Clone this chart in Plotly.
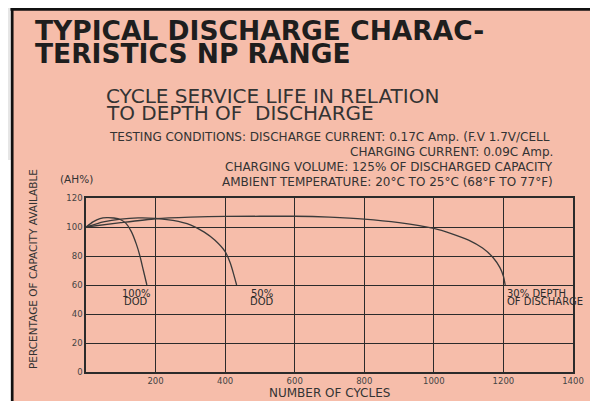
import plotly.graph_objects as go

# ---------------- data ----------------
dod100_cycles = [0, 20, 40, 60, 80, 100, 115, 130, 145, 155, 165, 175]
dod100_capacity = [100, 103.5, 105.8, 106.5, 106.2, 105, 102.5, 97, 88, 80, 70, 60]

dod50_cycles = [0, 50, 100, 150, 200, 250, 300, 340, 370, 400, 415, 425, 433]
dod50_capacity = [100, 103.5, 105.5, 106.3, 106, 104.5, 101.5, 96.5, 91, 83, 75, 67, 60]

dod30_cycles = [0, 100, 200, 300, 400, 600, 700, 800, 900, 1000, 1050, 1100, 1140, 1170, 1190, 1200, 1205]
dod30_capacity = [100, 103, 105.7, 106.8, 107.3, 107.4, 106.8, 105.5, 103, 99, 95.5, 91, 85.5, 79, 72, 66, 60]

x_ticks = [200, 400, 600, 800, 1000, 1200, 1400]
y_ticks = [0, 20, 40, 60, 80, 100, 120]

title_lines = ["TYPICAL DISCHARGE CHARAC-", "TERISTICS NP RANGE"]
subtitle_lines = ["CYCLE SERVICE LIFE IN RELATION", "TO DEPTH OF  DISCHARGE"]
cond_line1 = "TESTING CONDITIONS: DISCHARGE CURRENT: 0.17C Amp. (F.V 1.7V/CELL"
cond_lines_right = ["CHARGING CURRENT: 0.09C Amp.",
                    "CHARGING VOLUME: 125% OF DISCHARGED CAPACITY",
                    "AMBIENT TEMPERATURE: 20°C TO 25°C (68°F TO 77°F)"]

# ---------------- layout helpers ----------------
# page coordinates (the page body has an 8px margin, the figure sits at (8, 8))
OFF = 8
PW, PH = 598, 401
W, H = PW - OFF, PH - OFF          # figure size
L, R, T, B = 86, 573, 198, 372     # plot area in page pixels
def px(x):
    return (x - L) / (R - L)
def py(y):
    return (B - y) / (B - T)

INK = "#2b2b2b"
SALMON = "#f6bdaa"
FONT = "DejaVu Sans"

fig = go.Figure()
for xs, ys in [(dod100_cycles, dod100_capacity), (dod50_cycles, dod50_capacity), (dod30_cycles, dod30_capacity)]:
    fig.add_trace(go.Scatter(x=xs, y=ys, mode="lines",
                             line=dict(color="#3a3a3a", width=1.3, shape="spline", smoothing=0.6),
                             showlegend=False, hoverinfo="skip"))

ann = []
def text(s, x, y, size, xanchor="left", bold=False, color=INK, angle=0, xref="paper", yref="paper"):
    ann.append(dict(text=("<b>%s</b>" % s) if bold else s, x=x, y=y, xref=xref, yref=yref,
                    xanchor=xanchor, yanchor="middle", showarrow=False, textangle=angle,
                    font=dict(family=FONT, size=size, color=color)))

text(title_lines[0], px(33), py(30), 26.5, bold=True, color="#1e1e1e")
text(title_lines[1], px(33), py(53), 26.5, bold=True, color="#1e1e1e")
text(subtitle_lines[0], px(104), py(95.5), 20, color="#333333")
text(subtitle_lines[1], px(104), py(112.5), 20, color="#333333")
text(cond_line1, px(107), py(137), 12, color="#333333")
for s, yy in zip(cond_lines_right, [152, 167, 182]):
    text(s, px(555), py(yy), 12, xanchor="right", color="#333333")
text("(AH%)", px(76), py(179), 10.5, xanchor="center", color="#333333")
text("PERCENTAGE OF CAPACITY AVAILABLE", px(33), py(269), 10.5, xanchor="center", angle=-90, color="#333333")
text("NUMBER OF CYCLES", px(329), py(393), 12, xanchor="center", color="#333333")

# in-plot curve labels (data coordinates)
text("100%", 144, 54.0, 10, xanchor="center", xref="x", yref="y")
text("DOD", 144, 48.3, 10, xanchor="center", xref="x", yref="y")
text("50%", 506, 54.0, 10, xanchor="center", xref="x", yref="y")
text("DOD", 506, 48.3, 10, xanchor="center", xref="x", yref="y")
text("30% DEPTH", 1205, 54.0, 10, xanchor="left", xref="x", yref="y")
text("OF DISCHARGE", 1205, 48.3, 10, xanchor="left", xref="x", yref="y")

shapes = [
    # thin outside strip at the left (page x 8..11)
    dict(type="rect", xref="paper", yref="paper", x0=px(OFF - 1), x1=px(11), y0=py(OFF - 1), y1=py(160),
         fillcolor="#e6e6e6", line=dict(width=0), layer="below"),
    dict(type="rect", xref="paper", yref="paper", x0=px(OFF - 1), x1=px(11), y0=py(160), y1=py(PH + 2),
         fillcolor="#ffffff", line=dict(width=0), layer="below"),
    # salmon panel
    dict(type="rect", xref="paper", yref="paper", x0=px(12), x1=px(PW + 5), y0=py(9), y1=py(PH + 5),
         fillcolor=SALMON, line=dict(width=0), layer="below"),
    # black panel border (top and left)
    dict(type="line", xref="paper", yref="paper", x0=px(10.5), x1=px(PW + 5), y0=py(9.3), y1=py(9.3),
         line=dict(color="#111111", width=2.7)),
    dict(type="line", xref="paper", yref="paper", x0=px(12.2), x1=px(12.2), y0=py(8), y1=py(PH + 5),
         line=dict(color="#111111", width=2.7)),
]

axis_common = dict(showgrid=True, gridcolor=INK, gridwidth=1.3, zeroline=False,
                   showline=True, linecolor=INK, linewidth=1.5, mirror=True,
                   ticks="", tickfont=dict(family=FONT, size=8.5, color="#444444"))

fig.update_layout(
    width=W, height=H,
    margin=dict(l=L - OFF, r=PW - R, t=T - OFF, b=PH - B, pad=0),
    paper_bgcolor=SALMON, plot_bgcolor="rgba(0,0,0,0)",
    xaxis=dict(range=[0, 1400], tickvals=x_ticks, ticktext=[str(v) for v in x_ticks], **axis_common),
    yaxis=dict(range=[0, 120], tickvals=y_ticks, ticktext=[str(v) for v in y_ticks], **axis_common),
    annotations=ann, shapes=shapes, showlegend=False,
)

fig.write_html("out.html")
